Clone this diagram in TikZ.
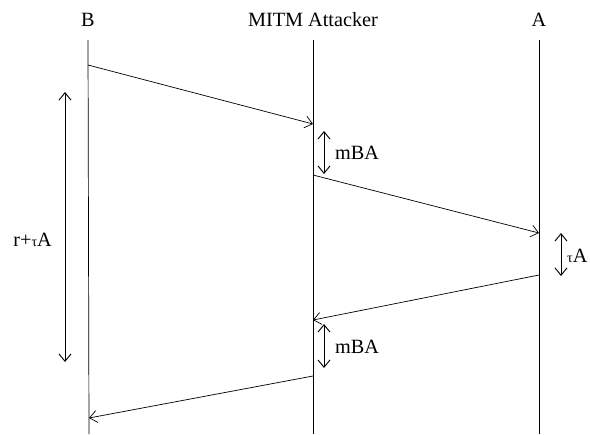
\documentclass[tikz,border=0pt]{standalone}
\usepackage{fontspec}
\setmainfont{Liberation Serif}
\usetikzlibrary{arrows.meta}
\begin{document}
\begin{tikzpicture}[x=0.03cm,y=-0.03cm,
    >={Straight Barb[length=2.2mm,width=3.6mm]},
    msg/.style={->,semithick},
    gap/.style={<->,thick},
    who/.style={font=\LARGE}]
            \useasboundingbox (0,0) rectangle (590,434);
            % names and lifelines
            \node[who] (B) at (88,20){B};
            \node[who] (M) at (313,20){MITM Attacker};
            \node[who] (A) at (539,20){A};
            \coordinate (Bt) at (88,40);  \coordinate (Bb) at (89,434);
            \coordinate (Mt) at (313,40); \coordinate (Mb) at (313,434);
            \coordinate (At) at (539,40); \coordinate (Ab) at (539,434);
            \draw[semithick] (Bt)to(Bb);
            \draw[semithick] (Mt)to(Mb);
            \draw[semithick] (At)to(Ab);
            % messages
            \coordinate (b1) at (88,65);   \coordinate (m1) at (313,124);
            \coordinate (m2) at (313,175); \coordinate (a1) at (539,233);
            \coordinate (a2) at (539,275); \coordinate (m3) at (313,320);
            \coordinate (m4) at (313,376); \coordinate (b2) at (89,418);
            \draw[msg] (b1)to(m1);
            \draw[msg] (m2)to(a1);
            \draw[msg] (a2)to(m3);
            \draw[msg] (m4)to(b2);
            % delays
            \coordinate (d1) at (324,131); \coordinate (d2) at (324,174);
            \coordinate (d3) at (561,233); \coordinate (d4) at (561,276);
            \coordinate (d5) at (324,324); \coordinate (d6) at (324,368);
            \coordinate (d7) at (65,92);   \coordinate (d8) at (65,362);
            \draw[gap] (d1)to(d2);
            \draw[gap] (d3)to(d4);
            \draw[gap] (d5)to(d6);
            \draw[gap] (d7)to(d8);
            \node[who,right] (l1) at (331,153){mBA};
            \node[who,right] (l2) at (563,256){{\large τ}A};
            \node[who,right] (l3) at (331,347){mBA};
            \node[who,left] (l4) at (56,240){r+{\large τ}A};
        \end{tikzpicture}
\end{document}
